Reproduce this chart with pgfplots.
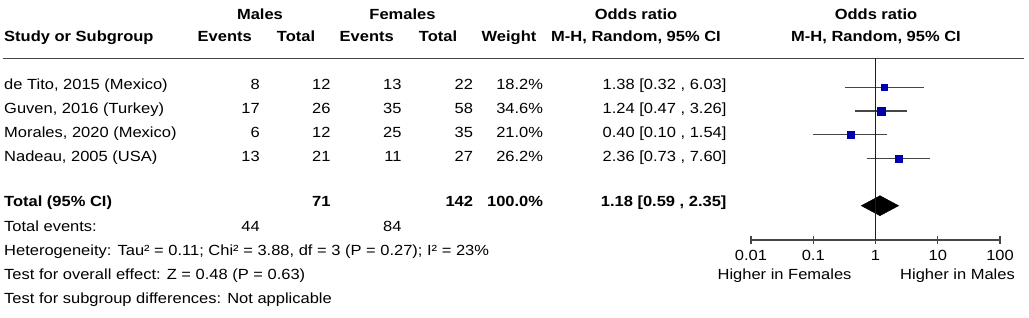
\documentclass[border=0pt]{standalone}
\usepackage{pgfplots}
\pgfplotsset{compat=1.18}
\usepackage{fontspec}
\setmainfont{Liberation Sans}
\definecolor{sqblue}{RGB}{0,0,175}
\definecolor{linegray}{RGB}{70,70,70}
\definecolor{darkline}{RGB}{28,28,28}
\tikzset{
  mytxt/.style={font=\fontsize{14.7}{17}\selectfont, xscale=1.122, inner sep=0pt, text=black},
  mybld/.style={mytxt, font=\fontsize{14.7}{17}\selectfont\bfseries},
  myL/.style={anchor=base west},
  myR/.style={anchor=base east},
  myC/.style={anchor=base}}
\begin{document}
\begin{tikzpicture}[x=1pt,y=1pt]
\useasboundingbox (0,0) rectangle (1029,-318);
% header
\node[mybld,myC] at (260,-19.5) {Males};
\node[mybld,myC] at (402.5,-19.5) {Females};
\node[mybld,myC] at (636,-19.5) {Odds ratio};
\node[mybld,myC] at (876,-19.5) {Odds ratio};
\node[mybld,myL] at (4,-42) {Study or Subgroup};
\node[mybld,myC] at (224.7,-42) {Events};
\node[mybld,myC] at (296,-42) {Total};
\node[mybld,myC] at (366.7,-42) {Events};
\node[mybld,myC] at (438,-42) {Total};
\node[mybld,myC] at (509,-42) {Weight};
\node[mybld,myC] at (636,-42) {M-H, Random, 95\% CI};
\node[mybld,myC] at (876,-42) {M-H, Random, 95\% CI};
\draw[linegray, line width=1.4pt] (3,-58.5) -- (1024,-58.5);
% rows
\node[mytxt,myL] at (4,-90) {de Tito, 2015 (Mexico)};
\node[mytxt,myR] at (260,-90) {8};
\node[mytxt,myR] at (330.7,-90) {12};
\node[mytxt,myR] at (401.7,-90) {13};
\node[mytxt,myR] at (473.3,-90) {22};
\node[mytxt,myR] at (543.3,-90) {18.2\%};
\node[mytxt,myR] at (726.7,-90) {1.38 [0.32 , 6.03]};
\node[mytxt,myL] at (4,-114) {Guven, 2016 (Turkey)};
\node[mytxt,myR] at (260,-114) {17};
\node[mytxt,myR] at (330.7,-114) {26};
\node[mytxt,myR] at (401.7,-114) {35};
\node[mytxt,myR] at (473.3,-114) {58};
\node[mytxt,myR] at (543.3,-114) {34.6\%};
\node[mytxt,myR] at (726.7,-114) {1.24 [0.47 , 3.26]};
\node[mytxt,myL] at (4,-138) {Morales, 2020 (Mexico)};
\node[mytxt,myR] at (260,-138) {6};
\node[mytxt,myR] at (330.7,-138) {12};
\node[mytxt,myR] at (401.7,-138) {25};
\node[mytxt,myR] at (473.3,-138) {35};
\node[mytxt,myR] at (543.3,-138) {21.0\%};
\node[mytxt,myR] at (726.7,-138) {0.40 [0.10 , 1.54]};
\node[mytxt,myL] at (4,-162) {Nadeau, 2005 (USA)};
\node[mytxt,myR] at (260,-162) {13};
\node[mytxt,myR] at (330.7,-162) {21};
\node[mytxt,myR] at (401.7,-162) {11};
\node[mytxt,myR] at (473.3,-162) {27};
\node[mytxt,myR] at (543.3,-162) {26.2\%};
\node[mytxt,myR] at (726.7,-162) {2.36 [0.73 , 7.60]};
% totals
\node[mybld,myL] at (4,-206.5) {Total (95\% CI)};
\node[mybld,myR] at (330.7,-206.5) {71};
\node[mybld,myR] at (473.3,-206.5) {142};
\node[mybld,myR] at (543.3,-206.5) {100.0\%};
\node[mybld,myR] at (726.7,-206.5) {1.18 [0.59 , 2.35]};
\node[mytxt,myL] at (4,-231) {Total events:};
\node[mytxt,myR] at (260,-231) {44};
\node[mytxt,myR] at (401.7,-231) {84};
\node[mytxt,myL] at (4,-255.5) {Heterogeneity: Tau² = 0.11; Chi² = 3.88, df = 3 (P = 0.27); I² = 23\%};
\node[mytxt,myL] at (4,-279.5) {Test for overall effect: Z = 0.48 (P = 0.63)};
\node[mytxt,myL] at (4,-303.5) {Test for subgroup differences: Not applicable};
\node[mytxt,myR] at (851.7,-279) {Higher in Females};
\node[mytxt,myL] at (900,-279) {Higher in Males};
% forest plot
\begin{axis}[
  scale only axis, width=249pt, height=181.5pt,
  at={(751pt,-240pt)}, anchor=south west,
  xmode=log, xmin=0.01, xmax=100, ymin=0, ymax=181.5,
  axis x line*=bottom, axis y line=none,
  x axis line style={-, linegray, line width=1.3pt},
  clip=false,
  xtick={0.01,0.1,1,10,100},
  xticklabels={0.01,0.1,1,10,100},
  xminorticks=false,
  ytick=\empty,
  tick align=center, major tick length=8pt,
  tick style={linegray, line width=1.3pt},
  xticklabel style={font=\fontsize{14.7}{17}\selectfont, xscale=1.122, inner sep=0pt, anchor=base, yshift=-16.5pt},
]
\addplot[linegray, line width=1.2pt] coordinates {(0.32,152.7) (6.03,152.7)};
\addplot[linegray, line width=1.2pt] coordinates {(0.47,129) (3.26,129)};
\addplot[linegray, line width=1.2pt] coordinates {(0.10,105.3) (1.54,105.3)};
\addplot[linegray, line width=1.2pt] coordinates {(0.73,81.7) (7.60,81.7)};
\addplot[only marks, mark=square*, mark size=2.85pt, color=sqblue] coordinates {(1.38,152.7)};
\addplot[only marks, mark=square*, mark size=4.25pt, color=sqblue] coordinates {(1.24,129)};
\addplot[only marks, mark=square*, mark size=3.1pt, color=sqblue] coordinates {(0.40,105.3)};
\addplot[only marks, mark=square*, mark size=3.5pt, color=sqblue] coordinates {(2.36,81.7)};
\addplot[fill=black, draw=black] coordinates {(0.59,34.3) (1.18,44.3) (2.35,34.3) (1.18,24.3)} -- cycle;
\end{axis}
% line of no effect (OR = 1)
\draw[draw=darkline, line width=1.4pt] (875.5,-58.5) -- (875.5,-240);
\end{tikzpicture}
\end{document}
